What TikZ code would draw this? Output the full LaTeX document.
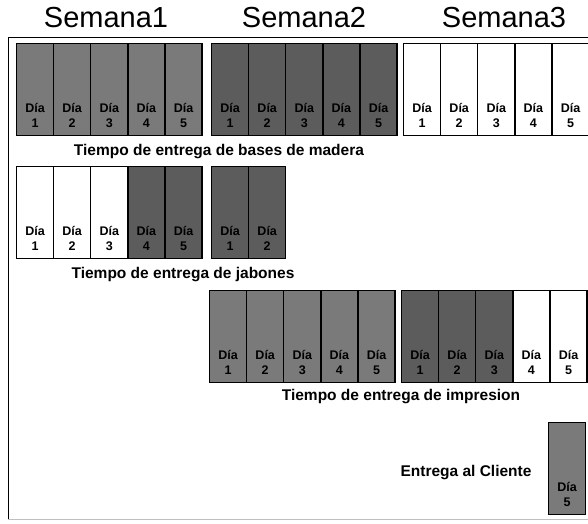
\documentclass[tikz,border=0pt]{standalone}
\usepackage{fontspec}
\setmainfont{Liberation Sans}
\begin{document}
\begin{tikzpicture}[x=1pt,y=-1pt,
  cell/.style={draw=black, line width=1.2pt, minimum width=37pt, minimum height=92pt, inner sep=0pt, anchor=north west},
  shA/.style={cell, fill=black!52},
  shB/.style={cell, fill=black!64},
  wh/.style={cell, fill=white},
  celltext/.style={font=\bfseries\fontsize{12.5}{15}\selectfont, align=center, inner sep=0pt},
  title/.style={font=\fontsize{29}{30}\selectfont, inner sep=0pt},
  lbl/.style={font=\bfseries\fontsize{15.5}{17}\selectfont, inner sep=0pt}]
\useasboundingbox (0,0) rectangle (588,523);
\newcommand\weekrow[4]{%
  \foreach \st/\d [count=\k from 0] in {#4} {
    \pgfmathsetmacro\xx{#2+37.1*\k}
    \node[\st] (#1\d) at (\xx,#3) {};
    \node[celltext, anchor=south] (#1\d t) at ([yshift=6pt]#1\d.south) {Día\\\d\vphantom{g}};
  }}
% frame
\draw[line width=1pt] (588,37) -- (8,37) -- (8,519);
\draw[black!25, line width=0.8pt] (8,519) -- (588,519);
% titles
\node[title] (s1) at (106,18) {Semana1};
\node[title] (s2) at (304,18) {Semana2};
\node[title] (s3) at (504,18) {Semana3};
% row 1
\weekrow{aa}{16}{43}{shA/1,shA/2,shA/3,shA/4,shA/5}
\weekrow{ab}{211}{43}{shB/1,shB/2,shB/3,shB/4,shB/5}
\weekrow{ac}{403}{43}{wh/1,wh/2,wh/3,wh/4,wh/5}
\node[lbl] (l1) at (219,152) {Tiempo de entrega de bases de madera};
% row 2
\weekrow{ba}{16}{166}{wh/1,wh/2,wh/3,shB/4,shB/5}
\weekrow{bb}{211}{166}{shB/1,shB/2}
\node[lbl] (l2) at (183,275) {Tiempo de entrega de jabones};
% row 3
\weekrow{ca}{209}{290}{shA/1,shA/2,shA/3,shA/4,shA/5}
\weekrow{cb}{401}{290}{shB/1,shB/2,shB/3,wh/4,wh/5}
\node[lbl] (l3) at (401,397) {Tiempo de entrega de impresion};
% row 4
\weekrow{da}{548}{422}{shA/5}
\node[lbl] (l4) at (466,473) {Entrega al Cliente};
\end{tikzpicture}
\end{document}
